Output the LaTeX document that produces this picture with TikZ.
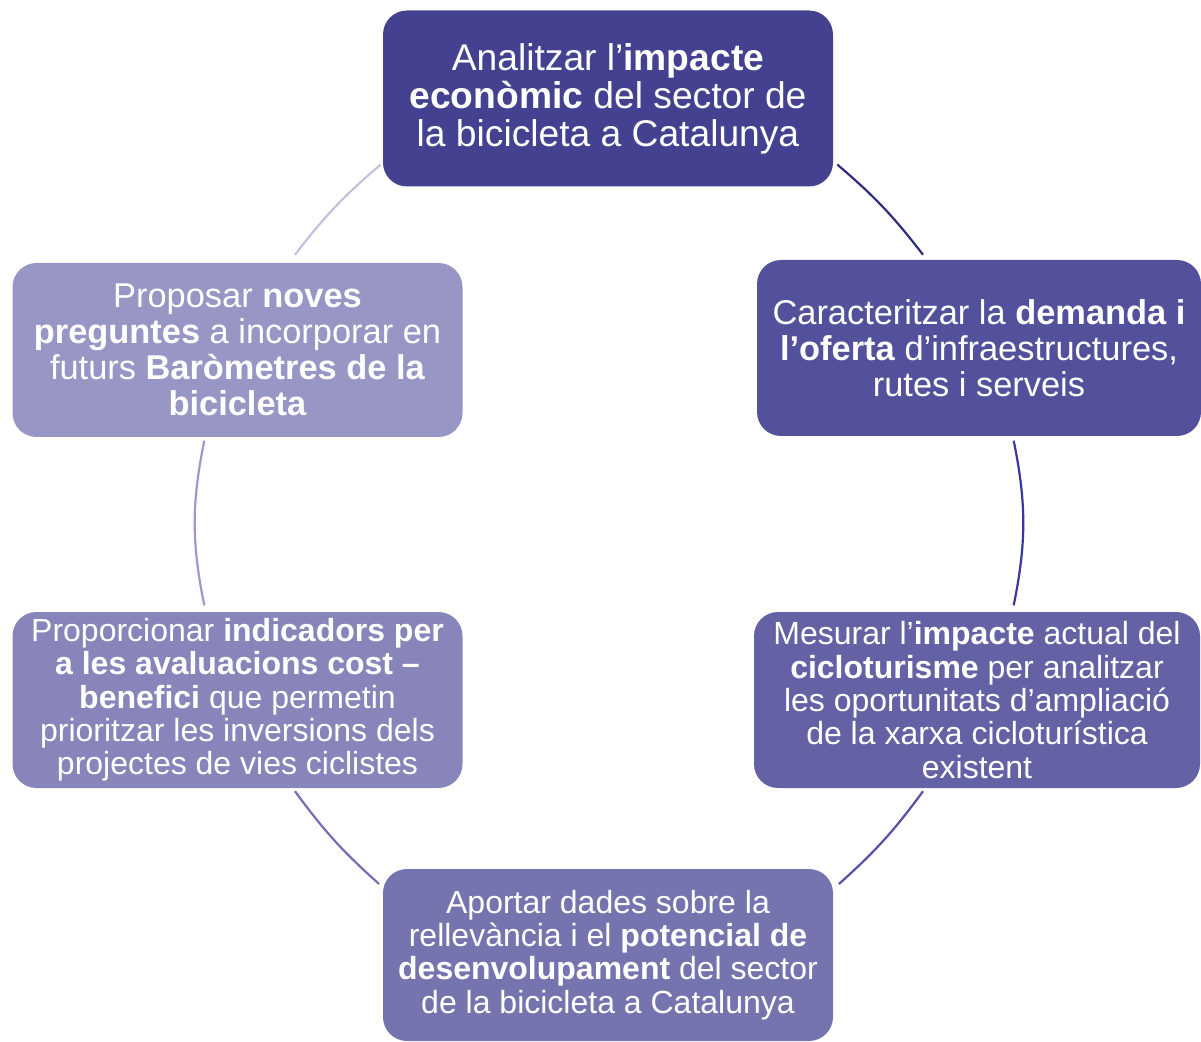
\documentclass[tikz,border=0pt]{standalone}
\usepackage{fontspec}
\setmainfont{Liberation Sans}
\usepackage{xcolor}
\usetikzlibrary{calc}

\definecolor{boxA}{HTML}{434190}
\definecolor{boxB}{HTML}{53519B}
\definecolor{boxC}{HTML}{6462A5}
\definecolor{boxD}{HTML}{7674AF}
\definecolor{boxE}{HTML}{8785B9}
\definecolor{boxF}{HTML}{9896C4}
\definecolor{arcA}{HTML}{2F2D80}
\definecolor{arcB}{HTML}{3A38A0}
\definecolor{arcC}{HTML}{5452A8}
\definecolor{arcD}{HTML}{7270B5}
\definecolor{arcE}{HTML}{9C9ACD}
\definecolor{arcF}{HTML}{C3C1DD}

\begin{document}
\begin{tikzpicture}[
      x=0.5pt, y=0.5pt,
      goal/.style={rectangle, rounded corners=12pt, text=white, align=center, inner sep=0pt, minimum width=225pt, minimum height=88pt},
      big/.style={font=\fontsize{18.6}{19}\selectfont},
      mid/.style={font=\fontsize{17.2}{17.9}\selectfont},
      small/.style={font=\fontsize{16}{16.65}\selectfont},
      link/.style={line width=1.1pt}
    ]
      \useasboundingbox (0,0) rectangle (1201,1041);

      % Boxes of the cycle
      \node[goal, big, fill=boxA] (impacte) at (608,942.5) {Analitzar l’\textbf{impacte}\\\textbf{econòmic} del sector de\\la bicicleta a Catalunya};
      \node[goal, mid, fill=boxB, minimum width=222pt] (demanda) at (979,693) {Caracteritzar la \textbf{demanda i}\\\textbf{l’oferta} d’infraestructures,\\rutes i serveis};
      \node[goal, small, fill=boxC, minimum width=223pt] (ciclotur) at (977,341) {Mesurar l’\textbf{impacte} actual del\\\textbf{cicloturisme} per analitzar\\les oportunitats d’ampliació\\de la xarxa cicloturística\\existent};
      \node[goal, small, fill=boxD, minimum height=86pt] (potencial) at (608,86) {Aportar dades sobre la\\rellevància i el \textbf{potencial de}\\\textbf{desenvolupament} del sector\\de la bicicleta a Catalunya};
      \node[goal, small, fill=boxE] (indicadors) at (237.5,341) {Proporcionar \textbf{indicadors per}\\\textbf{a les avaluacions cost –}\\\textbf{benefici} que permetin\\prioritzar les inversions dels\\projectes de vies ciclistes};
      \node[goal, mid, fill=boxF, minimum height=87pt] (barometre) at (237.5,691) {Proposar \textbf{noves}\\\textbf{preguntes} a incorporar en\\futurs \textbf{Baròmetres de la}\\\textbf{bicicleta}};

      % Arc ends round the cycle
      \coordinate (cyc) at (609,518);
      \foreach \n/\a/\r in {a1/57.5/425, a2/40.5/413, b1/11.5/413, b2/-11.5/413, c1/-40.5/413, c2/-57.5/428,
                            d1/-122.5/428, d2/-139.5/413, e1/-168.5/413, e2/-191.5/413, f1/139.5/413, f2/122.5/425}
        \coordinate (\n) at ($(cyc)+(\a:\r)$);

      % Arcs
      \draw[link, arcA] (a1) to[bend left=6] (a2);
      \draw[link, arcB] (b1) to[bend left=11.5] (b2);
      \draw[link, arcC] (c1) to[bend left=6] (c2);
      \draw[link, arcD] (d1) to[bend left=6] (d2);
      \draw[link, arcE] (e1) to[bend left=11.5] (e2);
      \draw[link, arcF] (f1) to[bend left=6] (f2);
    \end{tikzpicture}
\end{document}
